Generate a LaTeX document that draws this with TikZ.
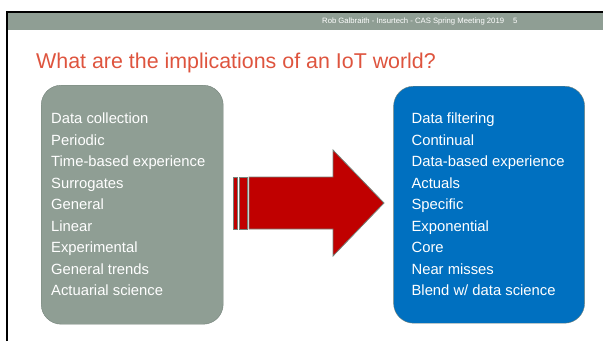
\documentclass[tikz,border=0pt]{standalone}
\usepackage{fontspec}
\setmainfont{Liberation Sans}
\usetikzlibrary{positioning}
\definecolor{slidegray}{RGB}{143,158,148}
\definecolor{slideedge}{RGB}{116,130,122}
\definecolor{slideblue}{RGB}{0,112,192}
\definecolor{titlered}{RGB}{222,84,62}
\definecolor{arrowred}{RGB}{192,0,0}
\tikzset{oldbox/.style={
        draw=slideedge,
        rounded corners=20pt,
        fill=slidegray,
        minimum width=182pt,
        minimum height=239pt
}}
\tikzset{newbox/.style={
        draw=slideedge,
        rounded corners=20pt,
        fill=slideblue,
        minimum width=191pt,
        minimum height=237pt
}}
\tikzset{itemlist/.style={
        inner sep=0pt,
        align=left,
        text=white,
        font=\fontsize{14.8}{21.5}\selectfont
}}
\tikzset{bigarrow/.style={draw=slideedge,fill=arrowred,line width=0.8pt}}

\begin{document}
\begin{tikzpicture}[x=1pt,y=-1pt,node distance=170pt]
\useasboundingbox (0,0) rectangle (603,341);
\fill[slidegray] (8,13) rectangle (603,30);
\draw[line width=2pt] (7,341) -- (7,12) -- (603,12);
\node[anchor=base west, inner sep=0pt, text=white, font=\fontsize{7.7}{9}\selectfont] (footer) at (322,23.5) {Rob Galbraith - Insurtech - CAS Spring Meeting 2019\hspace{9pt}5};
\node[anchor=base west, inner sep=0pt, text=titlered, font=\fontsize{21.4}{25}\selectfont] (title) at (36,68) {What are the implications of an IoT world?};

\node[oldbox, anchor=north west] (old) at (41,85) {};
\node[newbox, right=of old] (new) {};
\node[itemlist, anchor=west] (oldlist) at ([xshift=10pt]old.west) {Data collection\\ Periodic\\ Time-based experience\\ Surrogates\\ General\\ Linear\\ Experimental\\ General trends\\ Actuarial science};
\node[itemlist, anchor=west] (newlist) at ([xshift=18pt]new.west) {Data filtering\\ Continual\\ Data-based experience\\ Actuals\\ Specific\\ Exponential\\ Core\\ Near misses\\ Blend w/ data science};

\draw[bigarrow] (233,177) rectangle (237,229);
\draw[bigarrow] (239,177) rectangle (247,229);
\draw[bigarrow] (249,177) -- (333,177) -- (333,150) -- (384,203) -- (333,256) -- (333,229) -- (249,229) -- cycle;
\end{tikzpicture}
\end{document}
